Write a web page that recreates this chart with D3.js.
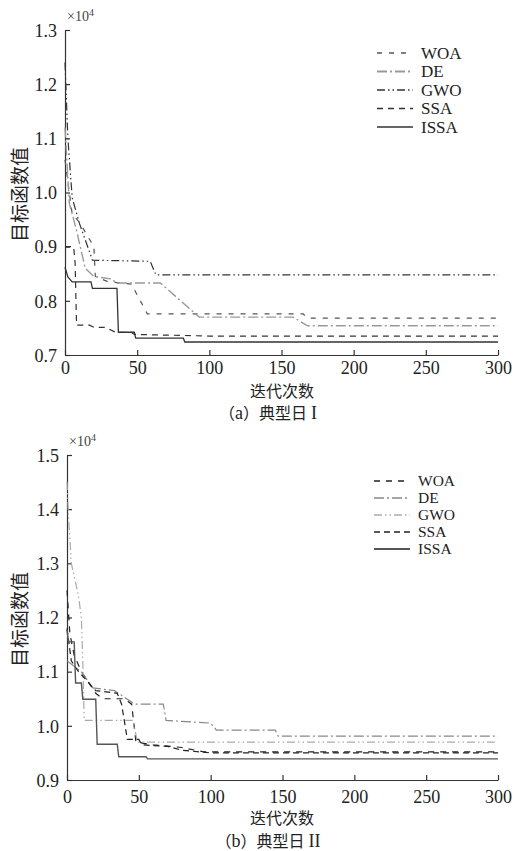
<!DOCTYPE html>
<html><head><meta charset="utf-8">
<script src="https://cdn.jsdelivr.net/npm/d3@7"></script>
<style>body{margin:0;background:#fff}svg{display:block}</style>
</head><body>
<svg id="c" width="521" height="851"></svg>
<script>
// ---- data (values in units of 1e4) ----
const seriesNames = ["WOA", "DE", "GWO", "SSA", "ISSA"];
const xTicks = [0, 50, 100, 150, 200, 250, 300];
const yTicksA = [0.7, 0.8, 0.9, 1.0, 1.1, 1.2, 1.3];
const yTicksB = [0.9, 1.0, 1.1, 1.2, 1.3, 1.4, 1.5];

// Typical day I
const woaA = [[0,1.06],[5,0.96],[10,0.945],[20,0.9],[21,0.845],[30,0.835],[46,0.831],[57,0.776],[165,0.776],[168,0.768],[300,0.768]];
const deA  = [[0,1.12],[3,0.98],[8,0.93],[14,0.86],[20,0.845],[33,0.84],[35,0.833],[66,0.833],[93,0.77],[158,0.77],[168,0.754],[300,0.754]];
const gwoA = [[0,1.24],[2,1.1],[5,0.99],[10,0.943],[19,0.875],[59,0.873],[63,0.848],[300,0.848]];
const ssaA = [[0,0.9],[6,0.9],[7,0.87],[8,0.755],[17,0.755],[20,0.751],[28,0.751],[35,0.742],[46,0.742],[48,0.738],[100,0.735],[300,0.735]];
const issaA= [[0,0.862],[2,0.844],[5,0.835],[18,0.835],[19,0.823],[36,0.823],[37,0.742],[48,0.742],[49,0.731],[82,0.731],[83,0.724],[300,0.724]];

// Typical day II
const woaB = [[0,1.25],[2,1.17],[5,1.13],[10,1.1],[15,1.08],[20,1.06],[25,1.05],[40,1.05],[45,1.04],[48,0.97],[60,0.965],[80,0.96],[95,0.952],[300,0.952]];
const deB  = [[0,1.12],[5,1.11],[10,1.1],[18,1.07],[33,1.065],[36,1.06],[47,1.04],[67,1.04],[69,1.01],[100,1.005],[104,0.992],[145,0.992],[147,0.981],[300,0.981]];
const gwoB = [[0,1.45],[1,1.39],[3,1.3],[8,1.24],[10,1.2],[11,1.12],[12,1.01],[46,1.01],[49,0.97],[300,0.97]];
const ssaB = [[0,1.18],[3,1.12],[8,1.1],[15,1.08],[20,1.065],[35,1.06],[38,1.04],[42,0.975],[50,0.975],[52,0.965],[70,0.962],[80,0.955],[100,0.95],[300,0.95]];
const issaB= [[0,1.177],[1,1.155],[5,1.155],[6,1.079],[10,1.079],[11,1.049],[20,1.049],[21,0.966],[35,0.966],[36,0.943],[55,0.943],[56,0.939],[300,0.939]];

const svg = d3.select("#c");
const serif = "'Liberation Serif','Times New Roman',serif";
const cjk = "'Noto Sans CJK SC',sans-serif";

function drawChart(o) {
  const x = d3.scaleLinear().domain([0, 300]).range([o.left, o.right]);
  const y = d3.scaleLinear().domain(o.yDomain).range([o.bottom, o.top]);
  const g = svg.append("g");

  // axes (inward ticks)
  const ax = g.append("g").attr("transform", `translate(0,${o.bottom})`)
    .call(d3.axisBottom(x).tickValues(xTicks).tickSizeInner(-5).tickSizeOuter(0).tickPadding(o.xPad));
  const ay = g.append("g").attr("transform", `translate(${o.left},0)`)
    .call(d3.axisLeft(y).tickValues(o.yTicks).tickFormat(d3.format(".1f")).tickSizeInner(-5).tickSizeOuter(0).tickPadding(8));
  [ax, ay].forEach(a => {
    a.select(".domain").attr("stroke", "#333").attr("stroke-width", 1.2);
    a.selectAll(".tick line").attr("stroke", "#333").attr("stroke-width", 1.2);
    a.selectAll("text").attr("font-family", serif).attr("font-size", 18).attr("fill", "#222");
  });
  ax.selectAll("text").attr("dy", "0.7em");
  ay.selectAll("text").attr("dy", "0.35em");

  // ×10^4
  const e = g.append("text").attr("x", o.left + 2).attr("y", o.top - 9)
    .attr("font-family", serif).attr("font-size", 14).attr("fill", "#444");
  e.append("tspan").text("×10");
  e.append("tspan").attr("dy", -5).attr("font-size", 10).text("4");

  // lines
  const line = d3.line().x(d => x(d[0])).y(d => y(d[1]));
  o.series.forEach((s, i) => {
    g.append("path").datum(s.data).attr("d", line).attr("fill", "none")
      .attr("stroke", s.color).attr("stroke-width", s.w || 1.2)
      .attr("stroke-dasharray", s.dash || null);
    // legend
    const ly = o.legY + i * o.legStep;
    g.append("line").attr("x1", o.legX).attr("x2", o.legX + 36).attr("y1", ly).attr("y2", ly)
      .attr("stroke", s.color).attr("stroke-width", s.w ? s.w + 0.4 : 1.6).attr("stroke-dasharray", s.dash || null);
    g.append("text").attr("x", o.legX + 44).attr("y", ly).attr("dy", "0.35em")
      .attr("font-family", serif).attr("font-size", o.legFont).attr("fill", "#222").text(seriesNames[i]);
  });

  // axis titles
  g.append("text").attr("transform", `translate(${o.yLabX},${(o.top + o.bottom) / 2 + 2}) rotate(-90)`)
    .attr("text-anchor", "middle").attr("dy", "0.35em")
    .attr("font-family", cjk).attr("font-size", 19).attr("fill", "#222").text("目标函数值");
  g.append("text").attr("x", 282).attr("y", o.xLabY).attr("text-anchor", "middle").attr("dy", "0.36em")
    .attr("font-family", cjk).attr("font-size", 16).attr("fill", "#222").text("迭代次数");
  const cap = g.append("text").attr("x", 268).attr("y", o.capY).attr("text-anchor", "middle").attr("dy", "0.36em")
    .attr("font-size", 16).attr("fill", "#222");
  cap.append("tspan").attr("font-family", cjk).text("（");
  cap.append("tspan").attr("font-family", serif).attr("font-size", 18).text(o.capLetter);
  cap.append("tspan").attr("font-family", cjk).text("）典型日");
  cap.append("tspan").attr("font-family", serif).attr("font-size", 18).attr("dx", 4).text(o.capNum);
}

drawChart({
  left: 65, right: 498, top: 30, bottom: 355, yDomain: [0.7, 1.3], yTicks: yTicksA, xPad: 6,
  legX: 377, legY: 53, legStep: 18.5, legFont: 17, yLabX: 20, xLabY: 391, capY: 413, capLetter: "a", capNum: "I",
  series: [
    {data: woaA, color: "#555", dash: "5,7"},
    {data: deA, color: "#999", dash: "10,3,2,3", w: 1.4},
    {data: gwoA, color: "#333", dash: "8,3,1.5,3,1.5,3"},
    {data: ssaA, color: "#333", dash: "6,5"},
    {data: issaA, color: "#333", w: 1.3}
  ]
});

drawChart({
  left: 67, right: 498, top: 455, bottom: 780, yDomain: [0.9, 1.5], yTicks: yTicksB, xPad: 10,
  legX: 374, legY: 481, legStep: 17, legFont: 15.5, yLabX: 20, xLabY: 818, capY: 841, capLetter: "b", capNum: "II",
  series: [
    {data: woaB, color: "#222", dash: "6,6"},
    {data: deB, color: "#888", dash: "10,3,2,3"},
    {data: gwoB, color: "#aaa", dash: "8,3,1.5,3,1.5,3"},
    {data: ssaB, color: "#222", dash: "6,4"},
    {data: issaB, color: "#555", w: 1.4}
  ]
});
</script>
</body></html>
